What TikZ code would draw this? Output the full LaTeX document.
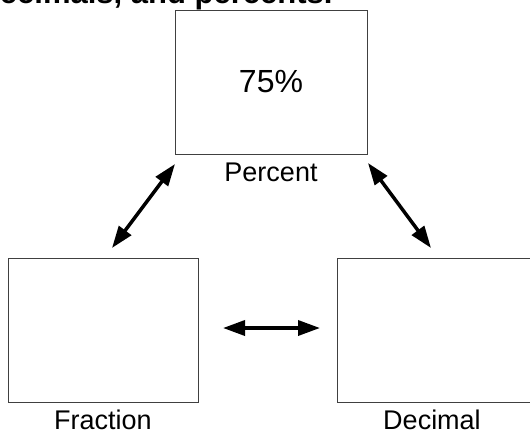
\documentclass[tikz,border=0pt]{standalone}
\usepackage{fontspec}
\setmainfont{Liberation Sans}
\usetikzlibrary{arrows.meta}

\begin{document}
\begin{tikzpicture}[x=1pt,y=-1pt,>={Triangle[length=22pt,width=15pt]},
box/.style={draw=black!75,line width=0.9pt,fill=white,minimum width=#1,minimum height=144pt,inner sep=0pt},
lab/.style={font=\fontsize{27}{30}\selectfont,anchor=base},
arr/.style={<->,line width=3.5pt,black}]
\useasboundingbox (0,0) rectangle (530,434);
\clip (0,0) rectangle (530,434);
\node[font=\fontsize{31}{34}\selectfont\bfseries,anchor=base east] (title) at (336,3.5) {decimals, and percents.};
\node[box=192pt] (percent) at (271,82) {\fontsize{32}{36}\selectfont 75\%};
\node[box=190pt] (fraction) at (103,330.5) {};
\node[box=195pt] (decimal) at (434.5,330) {};
\node[lab] (percentlab) at (271,181) {Percent};
\node[lab] (fractionlab) at (103,429) {Fraction};
\node[lab] (decimallab) at (432,429) {Decimal};
\coordinate (pf1) at (175,164);
\coordinate (pf2) at (112,248);
\coordinate (pd1) at (368,163);
\coordinate (pd2) at (431,248);
\coordinate (fd1) at (223,328);
\coordinate (fd2) at (320,328);
\draw[arr] (pf1)--(pf2);
\draw[arr] (pd1)--(pd2);
\draw[arr] (fd1)--(fd2);
\end{tikzpicture}
\end{document}
